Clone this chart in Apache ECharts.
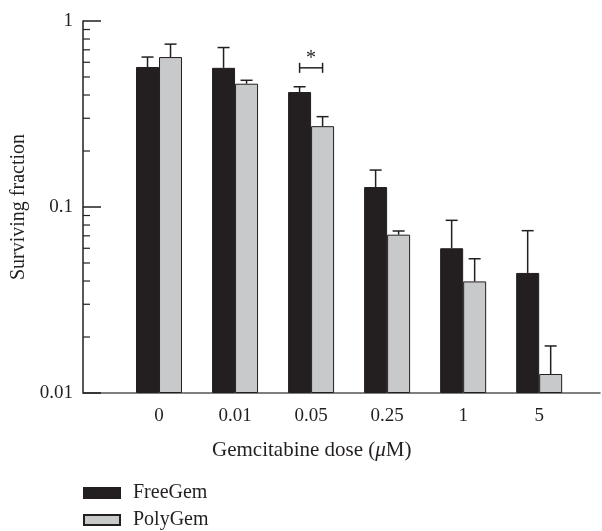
<!DOCTYPE html>
<html>
<head>
<meta charset="utf-8">
<script src="https://cdn.jsdelivr.net/npm/echarts@6/dist/echarts.min.js"></script>
<style>
    html, body { margin: 0; padding: 0; background: #fff; }
    #chart { width: 602px; height: 531px; }
</style>
</head>
<body>
<div id="chart"></div>
<script>
    // 数据
    var doses = ['0', '0.01', '0.05', '0.25', '1', '5'];
    var freeGem = [0.566, 0.56, 0.415, 0.128, 0.060, 0.0442];
    var freeGemErr = [0.64, 0.72, 0.443, 0.158, 0.0848, 0.0746];
    var polyGem = [0.64, 0.46, 0.272, 0.071, 0.0398, 0.01265];
    var polyGemErr = [0.751, 0.48, 0.306, 0.0743, 0.0527, 0.0179];
    var yTicks = [0.01, 0.1, 1];
    var yMinorTicks = [0.02, 0.03, 0.04, 0.05, 0.06, 0.07, 0.08, 0.09,
        0.2, 0.3, 0.4, 0.5, 0.6, 0.7, 0.8, 0.9];
    var sigPair = [[2, 0.56]]; // * 显著性标记

    var ink = '#231f20';
    var font = '"Liberation Serif", "DejaVu Serif", serif';
    var barW = 23;

    function errBar(offset) {
        return function(params, api) {
            var base = api.coord([api.value(0), api.value(1)]);
            var top = api.coord([api.value(0), api.value(2)]);
            var cx = base[0] + offset;
            var st = { stroke: ink, lineWidth: 1.5 };
            return {
                type: 'group',
                children: [
                    { type: 'line', shape: { x1: cx, y1: base[1], x2: cx, y2: top[1] }, style: st },
                    { type: 'line', shape: { x1: cx - 6, y1: top[1], x2: cx + 6, y2: top[1] }, style: st }
                ]
            };
        };
    }

    var chart = echarts.init(document.getElementById('chart'));
    chart.setOption({
        animation: false,
        grid: { left: 83, top: 21, right: 2, bottom: 138, containLabel: false, outerBoundsMode: 'none' },
        title: {
            text: 'Gemcitabine dose ({i|μ}M)',
            left: 207,
            top: 435,
            textStyle: {
                fontFamily: font, fontSize: 21, fontWeight: 'normal', color: ink,
                rich: { i: { fontFamily: font, fontSize: 21, fontStyle: 'italic', color: ink } }
            }
        },
        legend: {
            orient: 'vertical',
            left: 83,
            top: 483,
            padding: 0,
            icon: 'rect',
            itemWidth: 36,
            itemHeight: 10,
            itemGap: 7,
            data: ['FreeGem', 'PolyGem'],
            formatter: function(name) { return '{g|}' + name; },
            textStyle: {
                fontFamily: font, fontSize: 20, lineHeight: 20, color: ink,
                rich: { g: { width: 8 } }
            }
        },
        xAxis: {
            type: 'value',
            min: -1,
            max: 5.8,
            interval: 1,
            splitLine: { show: false },
            axisTick: { show: false },
            axisLine: { onZero: false, lineStyle: { color: '#555', width: 1.5 } },
            axisLabel: {
                margin: 14,
                fontFamily: font, fontSize: 19, color: ink,
                showMaxLabel: false,
                formatter: function(v) {
                    return (v >= 0 && Math.round(v) === v && doses[v] !== undefined) ? doses[v] : '';
                }
            }
        },
        yAxis: {
            type: 'log',
            logBase: 10,
            min: 0.01,
            max: 1,
            startValue: 0.01,
            name: 'Surviving fraction',
            nameLocation: 'middle',
            nameGap: 53,
            nameTextStyle: { fontFamily: font, fontSize: 20, color: ink },
            splitLine: { show: false },
            axisLine: { show: true, onZero: false, lineStyle: { color: ink, width: 1.5 } },
            axisTick: { show: true, inside: true, length: 18, lineStyle: { color: ink, width: 1.5 } },
            axisLabel: {
                margin: 10,
                fontFamily: font, fontSize: 19, color: ink,
                formatter: function(v) {
                    return yTicks.indexOf(+v.toPrecision(3)) >= 0 ? String(+v.toPrecision(3)) : '';
                }
            }
        },
        series: [{
            name: 'FreeGem',
            type: 'bar',
            barWidth: barW,
            barGap: '0%',
            data: freeGem.map(function(v, i) { return [i, v]; }),
            itemStyle: { color: ink, borderColor: ink, borderWidth: 1 }
        }, {
            name: 'PolyGem',
            type: 'bar',
            barWidth: barW,
            barGap: '0%',
            data: polyGem.map(function(v, i) { return [i, v]; }),
            itemStyle: { color: '#c8c9cb', borderColor: ink, borderWidth: 1 }
        }, {
            type: 'custom',
            z: 5,
            renderItem: errBar(-barW / 2),
            data: freeGem.map(function(v, i) { return [i, v, freeGemErr[i]]; })
        }, {
            type: 'custom',
            z: 5,
            renderItem: errBar(barW / 2),
            data: polyGem.map(function(v, i) { return [i, v, polyGemErr[i]]; })
        }, {
            // 次刻度
            type: 'custom',
            z: 5,
            clip: false,
            renderItem: function(params, api) {
                var p = api.coord([-1, api.value(0)]);
                return {
                    type: 'line',
                    shape: { x1: p[0], y1: p[1], x2: p[0] + 7, y2: p[1] },
                    style: { stroke: ink, lineWidth: 1.2 }
                };
            },
            encode: { y: 0 },
            data: yMinorTicks.map(function(v) { return [v]; })
        }, {
            type: 'custom',
            z: 5,
            clip: false,
            renderItem: function(params, api) {
                var p = api.coord([api.value(0), api.value(1)]);
                var st = { stroke: ink, lineWidth: 1.5 };
                var l = p[0] - barW / 2, r = p[0] + barW / 2;
                return {
                    type: 'group',
                    children: [
                        { type: 'line', shape: { x1: l, y1: p[1], x2: r, y2: p[1] }, style: st },
                        { type: 'line', shape: { x1: l, y1: p[1] - 5, x2: l, y2: p[1] + 5 }, style: st },
                        { type: 'line', shape: { x1: r, y1: p[1] - 5, x2: r, y2: p[1] + 5 }, style: st },
                        { type: 'text', x: p[0], y: p[1] - 9, style: { text: '*', fill: ink, font: '20px ' + font, align: 'center', verticalAlign: 'middle' } }
                    ]
                };
            },
            data: sigPair
        }]
    });
</script>
</body>
</html>
